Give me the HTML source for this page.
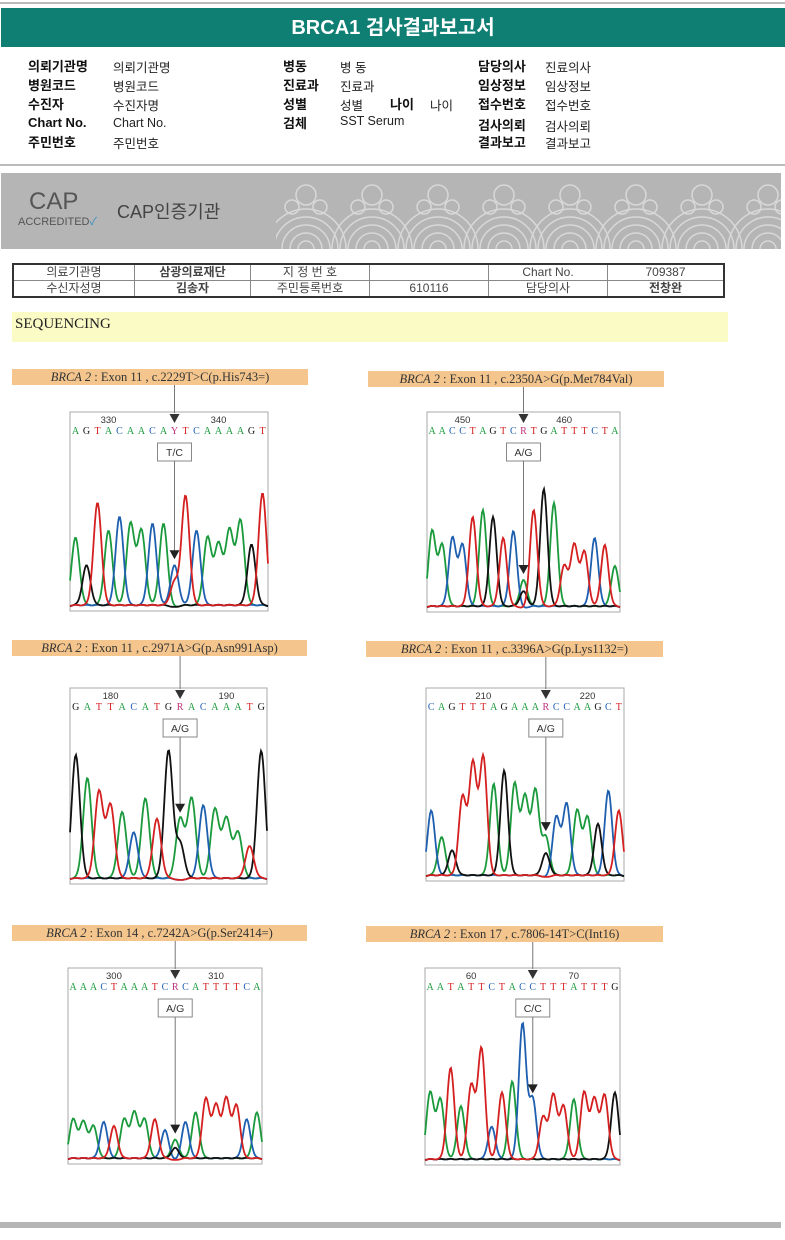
<!DOCTYPE html>
<html><head><meta charset="utf-8">
<style>
body{margin:0;width:785px;height:1240px;background:#fff;position:relative;overflow:hidden;font-family:"Liberation Sans","Noto Sans CJK KR",sans-serif;}
.a{position:absolute;white-space:nowrap}
.k{font-weight:bold;font-size:13px;color:#111}
.v{font-size:12.5px;color:#222}
table td{padding:0;line-height:15px}
</style></head><body>
<div class="a" style="left:0;top:2px;width:785px;height:2px;background:#bbb"></div>
<div class="a" style="left:1px;top:8px;width:784px;height:39px;background:#0f7f74;color:#fff;font-weight:bold;font-size:20px;text-align:center;line-height:40px">BRCA1 검사결과보고서</div>
<div>
<div class="a k" style="left:28px;top:56px">의뢰기관명</div><div class="a v" style="left:113px;top:57px">의뢰기관명</div>
<div class="a k" style="left:28px;top:75px">병원코드</div><div class="a v" style="left:113px;top:76px">병원코드</div>
<div class="a k" style="left:28px;top:94px">수진자</div><div class="a v" style="left:113px;top:95px">수진자명</div>
<div class="a k" style="left:28px;top:115px">Chart No.</div><div class="a v" style="left:113px;top:116px">Chart No.</div>
<div class="a k" style="left:28px;top:132px">주민번호</div><div class="a v" style="left:113px;top:133px">주민번호</div>
<div class="a k" style="left:283px;top:56px">병동</div><div class="a v" style="left:340px;top:57px">병 동</div>
<div class="a k" style="left:283px;top:75px">진료과</div><div class="a v" style="left:340px;top:76px">진료과</div>
<div class="a k" style="left:283px;top:94px">성별</div><div class="a v" style="left:340px;top:95px">성별</div>
<div class="a k" style="left:390px;top:94px">나이</div><div class="a v" style="left:430px;top:95px">나이</div>
<div class="a k" style="left:283px;top:113px">검체</div><div class="a v" style="left:340px;top:114px">SST Serum</div>
<div class="a k" style="left:478px;top:56px">담당의사</div><div class="a v" style="left:545px;top:57px">진료의사</div>
<div class="a k" style="left:478px;top:75px">임상정보</div><div class="a v" style="left:545px;top:76px">임상정보</div>
<div class="a k" style="left:478px;top:94px">접수번호</div><div class="a v" style="left:545px;top:95px">접수번호</div>
<div class="a k" style="left:478px;top:115px">검사의뢰</div><div class="a v" style="left:545px;top:116px">검사의뢰</div>
<div class="a k" style="left:478px;top:132px">결과보고</div><div class="a v" style="left:545px;top:133px">결과보고</div>
</div>
<div class="a" style="left:0;top:164px;width:785px;height:2px;background:#bbb"></div>
<div class="a" style="left:1px;top:173px;width:780px;height:76px;background:#b5b5b5">
<div class="a" style="left:28px;top:15px;font-size:24px;color:#555">CAP</div>
<div class="a" style="left:17px;top:40px;font-size:11px;color:#555">ACCREDITED<span style="color:#3a8fc0">✓</span></div>
<div class="a" style="left:116px;top:25px;font-size:18px;color:#444">CAP인증기관</div>
<svg class="a" style="left:275px;top:0" width="505" height="76"><g fill="none" stroke="#d8d8d8" stroke-width="1.5" id="wv"></g></svg>
</div>
<table class="a" style="left:12px;top:263px;width:713px;border-collapse:collapse;font-size:12px;color:#444;border:2px solid #333">
<tr style="height:16px"><td style="border:1px solid #888;text-align:center;width:120px">의료기관명</td><td style="border:1px solid #888;text-align:center;width:115px;font-weight:bold">삼광의료재단</td><td style="border:1px solid #888;text-align:center;width:118px">지 정 번 호</td><td style="border:1px solid #888;width:118px"></td><td style="border:1px solid #888;text-align:center;width:118px">Chart No.</td><td style="border:1px solid #888;text-align:center">709387</td></tr>
<tr style="height:16px"><td style="border:1px solid #888;text-align:center">수신자성명</td><td style="border:1px solid #888;text-align:center;font-weight:bold">김송자</td><td style="border:1px solid #888;text-align:center">주민등록번호</td><td style="border:1px solid #888;text-align:center">610116</td><td style="border:1px solid #888;text-align:center">담당의사</td><td style="border:1px solid #888;text-align:center;font-weight:bold">전창완</td></tr>
</table>
<div class="a" style="left:12px;top:312px;width:713px;height:30px;background:#fbfbc6;font-family:'Liberation Serif',serif;font-size:15px;line-height:24px;padding-left:3px;color:#222">SEQUENCING</div>
<div id="panels"></div>
<div class="a" style="left:0;top:1222px;width:781px;height:6px;background:#b5b5b5"></div>
<script>
(function(){var g=document.getElementById('wv');var s='';for(var i=0;i<8;i++){var cx=30+i*66;for(var r=8;r<=40;r+=8){s+='<path d="M'+(cx-r)+' 76 A'+r+' '+r+' 0 0 1 '+(cx+r)+' 76"/>';}s+='<circle cx="'+cx+'" cy="22" r="10"/><circle cx="'+(cx-14)+'" cy="34" r="7"/><circle cx="'+(cx+14)+'" cy="34" r="7"/>';}g.innerHTML=s;})();

const p1Seq="AGTACAACAYTCAAAAGT";
const p1Heights=[0.5,0.3,0.75,0.55,0.65,0.6,0.55,0.6,0.6,0.3,0.8,0.55,0.5,0.45,0.55,0.62,0.45,0.82];
const p2Seq="AACCTAGTCRTGATTTCTA";
const p2Heights=[0.55,0.45,0.5,0.45,0.65,0.7,0.65,0.5,0.55,0.2,0.7,0.85,0.75,0.3,0.45,0.4,0.5,0.45,0.3];
const p3Seq="GATTACATGRACAAATG";
const p3Heights=[0.92,0.75,0.65,0.55,0.5,0.35,0.6,0.45,0.95,0.45,0.6,0.55,0.52,0.45,0.35,0.25,0.95];
const p4Seq="CAGTTTAGAAARCCAAGCT";
const p4Heights=[0.5,0.3,0.2,0.6,0.85,0.9,0.7,0.8,0.7,0.6,0.65,0.3,0.45,0.55,0.5,0.45,0.4,0.65,0.5];
const p5Seq="AAACTAAATCRCATTTTCA";
const p5Heights=[0.3,0.28,0.25,0.28,0.25,0.3,0.35,0.3,0.3,0.22,0.15,0.28,0.35,0.45,0.4,0.45,0.4,0.3,0.35];
const p6Seq="AATATTCTACCTTTATTTG";
const p6Heights=[0.5,0.45,0.68,0.4,0.55,0.82,0.25,0.5,0.58,1.0,0.45,0.32,0.48,0.4,0.45,0.5,0.45,0.48,0.5];
const labels=["Exon 11 , c.2229T>C(p.His743=)","Exon 11 , c.2350A>G(p.Met784Val)","Exon 11 , c.2971A>G(p.Asn991Asp)","Exon 11 , c.3396A>G(p.Lys1132=)","Exon 14 , c.7242A>G(p.Ser2414=)","Exon 17 , c.7806-14T>C(Int16)"];
const genotypes=["T/C","A/G","A/G","A/G","A/G","C/C"];
const posLabels=[[330,340],[450,460],[180,190],[210,220],[300,310],[60,70]];
const seqs=[p1Seq,p2Seq,p3Seq,p4Seq,p5Seq,p6Seq];
const heights=[p1Heights,p2Heights,p3Heights,p4Heights,p5Heights,p6Heights];
const layout=[[12,369,296,70,412,198,199],[368,371,296,427,412,193,200],[12,640,295,70,688,197,196],[366,641,297,426,688,198,193],[12,925,295,68,968,194,196],[366,926,297,425,968,195,197]];
const col={A:'#1a9a3c',C:'#1f5fb0',G:'#111',T:'#d42020'};
const het={Y:['C','T'],R:['A','G']};

const host=document.getElementById('panels');
for(let p=0;p<6;p++){
  const L=layout[p];const seq=seqs[p];const hs=heights[p];
  const lab=document.createElement('div');
  
  
  lab.className='a';
  lab.style.cssText='left:'+L[0]+'px;top:'+L[1]+'px;width:'+L[2]+'px;height:16px;background:#f4c68e;font-family:"Liberation Serif",serif;font-size:12.5px;line-height:16px;text-align:center;color:#333;z-index:2';
  lab.innerHTML='<i>BRCA 2</i> : '+labels[p].replace(/>/g,'&gt;');
  host.appendChild(lab);
  const bx=L[3],by=L[4],bw=L[5],bh=L[6];
  const svg=document.createElementNS('http://www.w3.org/2000/svg','svg');
  
  
  svg.setAttribute('width',bw+4);svg.setAttribute('height',bh+50);
  svg.style.cssText='position:absolute;left:'+(bx-2)+'px;top:'+(by-45)+'px';
  const n=seq.length;const step=bw/n;
  const xOf=i=>2+step*(i+0.5);
  const base=45+bh-4;const yOf=h=>base-h*(bh-60);
  let s='<rect x="2" y="45" width="'+bw+'" height="'+bh+'" fill="#fff" stroke="#aaa"/>';
  const trace=(letter,amps)=>{let d='';for(let x=0;x<=bw;x+=1){let y=0;for(let i=0;i<n;i++){const a=amps[i];if(!a)continue;const dx=(x+2-xOf(i))/(step*0.36);y+=a*Math.exp(-dx*dx/2);}d+=(x?'L':'M')+(x+2)+' '+yOf(Math.min(y,1.05)).toFixed(1);}return '<path d="'+d+'" fill="none" stroke="'+col[letter]+'" stroke-width="1.8"/>';};
  ['A','C','G','T'].forEach(b=>{const amps=[];for(let i=0;i<n;i++){const c=seq[i];if(c===b)amps.push(hs[i]);else if(het[c]){amps.push(het[c][0]===b?hs[i]:het[c][1]===b?hs[i]*0.6:0);}else amps.push(0.015);}s+=trace(b,amps);});
  for(let i=0;i<n;i++){const c=seq[i];const fill=het[c]?'#c0307a':col[c];s+='<text x="'+xOf(i)+'" y="67" font-size="10" text-anchor="middle" fill="'+fill+'" font-family="Liberation Serif,serif">'+c+'</text>';}
  const vi=seq.search(/[YR]/)>=0?seq.search(/[YR]/):10;
  const ax=xOf(vi);
  posLabels[p].forEach((v,j)=>{s+='<text x="'+xOf(j===0?vi-6:vi+4)+'" y="56" font-size="9.5" text-anchor="middle" fill="#333">'+v+'</text>';});
  const ly=L[1]+16-(by-45);
  s+='<line x1="'+ax+'" y1="'+ly+'" x2="'+ax+'" y2="46" stroke="#777"/><path d="M'+(ax-5)+' 47 L'+(ax+5)+' 47 L'+ax+' 56Z" fill="#333"/>';
  s+='<rect x="'+(ax-17)+'" y="76" width="34" height="18" fill="#fff" stroke="#888"/><text x="'+ax+'" y="89" font-size="10.5" text-anchor="middle" fill="#333">'+genotypes[p]+'</text>';
  const ty=yOf(hs[vi])-6;
  s+='<line x1="'+ax+'" y1="94" x2="'+ax+'" y2="'+(ty-8)+'" stroke="#777"/><path d="M'+(ax-5)+' '+(ty-9)+' L'+(ax+5)+' '+(ty-9)+' L'+ax+' '+ty+'Z" fill="#222"/>';
  svg.innerHTML=s;
  host.appendChild(svg);
}
</script>
</body></html>
